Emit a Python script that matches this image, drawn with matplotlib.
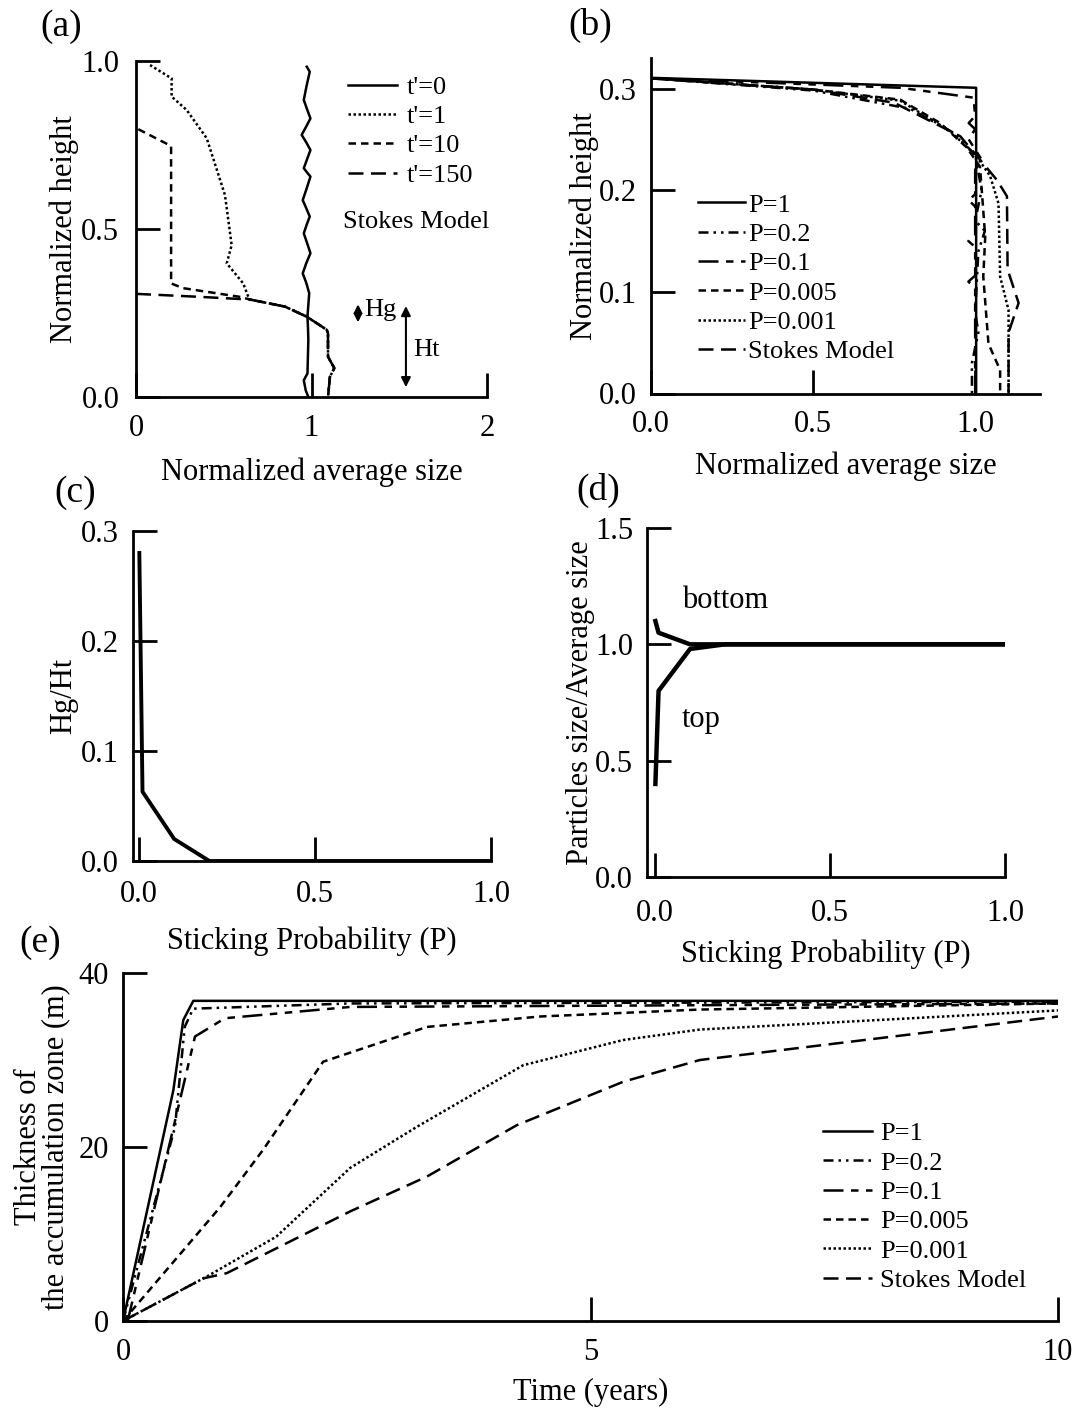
import numpy as np
import matplotlib.pyplot as plt

plt.rcParams['font.family'] = ['Liberation Serif', 'DejaVu Serif']
plt.rcParams['font.size'] = 22

W, H = 1078, 1411

# ---- (a) size profiles, Stokes model
t0_x = [0.982, 0.967, 0.956, 0.977, 0.982, 0.98, 0.977, 0.987, 0.97, 0.95, 0.97, 0.994, 0.975,
        0.956, 0.972, 0.99, 0.97, 0.95, 0.972, 0.994, 0.975, 0.956, 0.975, 0.994, 0.97, 0.944,
        0.97, 0.994, 0.975, 0.956, 0.972, 0.99, 0.973]
t0_y = [0.0, 0.02, 0.05, 0.07, 0.17, 0.205, 0.239, 0.309, 0.34, 0.368, 0.398, 0.428, 0.458,
        0.487, 0.512, 0.537, 0.562, 0.586, 0.62, 0.656, 0.668, 0.681, 0.708, 0.735, 0.758,
        0.78, 0.805, 0.829, 0.856, 0.884, 0.926, 0.968, 0.983]
tail_x = [0.65, 0.849, 0.973, 1.087, 1.094, 1.094, 1.13, 1.105, 1.094]
tail_y = [0.29, 0.269, 0.239, 0.2, 0.19, 0.12, 0.086, 0.06, 0.0]
t1_x = [0.08, 0.203, 0.203, 0.289, 0.403, 0.507, 0.545, 0.517, 0.611, 0.64] + tail_x
t1_y = [0.988, 0.948, 0.894, 0.854, 0.77, 0.601, 0.452, 0.398, 0.338, 0.298] + tail_y
t10_x = [0.013, 0.2, 0.2, 0.268, 0.593] + tail_x
t10_y = [0.797, 0.747, 0.338, 0.324, 0.298] + tail_y
t150_x = [0.0, 0.365] + tail_x
t150_y = [0.307, 0.298] + tail_y

# ---- (b) size profiles, sticking probability
b_p1_x = [0.0, 1.003, 1.003]
b_p1_y = [0.3105, 0.3007, 0.0]
b_p02_x = [0.0, 0.5, 0.8, 0.93, 1.0, 1.02, 1.0, 1.03, 1.01, 1.0, 1.01, 0.99, 0.99]
b_p02_y = [0.31, 0.298, 0.28, 0.257, 0.235, 0.2, 0.17, 0.16, 0.14, 0.08, 0.06, 0.03, 0.0]
b_p01_x = [0.0, 0.77, 0.995, 1.0, 0.98, 1.0, 0.98, 1.0, 1.02, 1.0, 1.0, 0.98, 1.0, 1.0, 0.979,
           1.0, 1.0, 0.979, 1.0, 1.0]
b_p01_y = [0.31, 0.3007, 0.291, 0.273, 0.266, 0.26, 0.25, 0.24, 0.23, 0.22, 0.196, 0.19, 0.184,
           0.156, 0.15, 0.144, 0.116, 0.11, 0.104, 0.0]
b_p0005_x = [0.0, 0.5, 0.769, 0.892, 0.974, 1.015, 1.031, 1.025, 1.041, 1.077, 1.077]
b_p0005_y = [0.31, 0.299, 0.289, 0.266, 0.242, 0.223, 0.154, 0.115, 0.049, 0.023, 0.0]
b_p0001_x = [0.0, 0.5, 0.769, 0.923, 1.005, 1.046, 1.072, 1.077, 1.103, 1.103]
b_p0001_y = [0.31, 0.299, 0.288, 0.258, 0.233, 0.214, 0.187, 0.115, 0.082, 0.0]
b_stokes_x = [0.0, 0.5, 0.75, 0.954, 1.015, 1.067, 1.098, 1.1, 1.134, 1.103, 1.103]
b_stokes_y = [0.31, 0.299, 0.286, 0.253, 0.23, 0.21, 0.194, 0.122, 0.089, 0.06, 0.0]

# ---- (c) Hg/Ht vs P
c_p = [0.001, 0.01, 0.1, 0.2, 1.0]
c_hg = [0.28, 0.063, 0.02, 0.0, 0.0]

# ---- (d) particle size / average size vs P
d_p = [0.001, 0.01, 0.1, 0.2, 1.0]
d_bottom = [1.10, 1.05, 1.0, 1.0, 1.0]
d_top = [0.40, 0.80, 0.98, 1.0, 1.0]

# ---- (e) thickness of accumulation zone vs time
e_p1_t = [0.0, 0.538, 0.645, 0.752, 10.0]
e_p1_h = [0.0, 26.5, 34.6, 36.8, 36.8]
e_p02_t = [0.0, 0.556, 0.66, 0.75, 2.43, 10.0]
e_p02_h = [0.0, 22.3, 33.8, 35.9, 36.5, 36.7]
e_p01_t = [0.05, 0.77, 1.09, 2.43, 10.0]
e_p01_h = [0.0, 32.7, 34.8, 36.1, 36.5]
e_p0005_t = [0.0, 1.04, 1.5, 2.14, 3.25, 4.46, 6.17, 10.0]
e_p0005_h = [0.0, 13.1, 19.7, 29.8, 33.8, 35.0, 35.8, 36.5]
e_p0001_t = [0.0, 0.895, 1.64, 2.43, 3.14, 4.28, 5.35, 6.17, 10.0]
e_p0001_h = [0.0, 5.1, 9.7, 17.6, 22.3, 29.4, 32.3, 33.5, 35.7]
e_stokes_t = [0.0, 0.86, 1.11, 2.43, 3.25, 4.21, 5.35, 6.17, 10.0]
e_stokes_h = [0.0, 4.9, 5.5, 12.6, 16.6, 22.5, 27.5, 30.0, 35.0]

p_labels = ['P=1', 'P=0.2', 'P=0.1', 'P=0.005', 'P=0.001', 'Stokes Model']
styles = ['-', (0, (4, 2, 1, 2, 1, 2)), (0, (8, 3, 3, 3, 3, 3)), (0, (3, 2)), (0, (1, 1)), (0, (6, 3))]
LW = 1.8

fig = plt.figure(figsize=(W / 100, H / 100), dpi=100)


def px_axes(left, top, right, bottom, xpad=12, ypad=10):
    ax = fig.add_axes([left / W, 1 - bottom / H, (right - left) / W, (bottom - top) / H])
    for s in ['top', 'right']:
        ax.spines[s].set_visible(False)
    for s in ['left', 'bottom']:
        ax.spines[s].set_linewidth(2)
    ax.tick_params(direction='in', length=17, width=2, labelsize=22)
    ax.tick_params(axis='x', pad=xpad)
    ax.tick_params(axis='y', pad=ypad)
    return ax


def panel_letter(x, y, s):
    fig.text(x / W, 1 - y / H, s, fontsize=27, ha='center', va='center')


def leg(ax, anchor, hl=1.86, tp=0.38):
    ax.legend(loc='upper left', bbox_to_anchor=anchor, frameon=False, fontsize=19,
              handlelength=hl, handletextpad=tp, labelspacing=0.22, borderpad=0, borderaxespad=0)


# (a)
ax = px_axes(136, 61, 487, 397, ypad=12)
ax.plot(t0_x, t0_y, '-', color='k', lw=LW, label="t'=0")
ax.plot(t1_x, t1_y, color='k', lw=LW, linestyle=(0, (1, 1)), label="t'=1")
ax.plot(t10_x, t10_y, color='k', lw=LW, linestyle=(0, (3, 2)), label="t'=10")
ax.plot(t150_x, t150_y, color='k', lw=LW, linestyle=(0, (6, 3)), label="t'=150")
ax.set_xlim(0, 2)
ax.set_ylim(0, 1)
ax.set_xticks([0, 1, 2])
ax.set_yticks([0, 0.5, 1.0])
ax.set_yticklabels(['0.0', '0.5', '1.0'])
ax.set_xlabel('Normalized average size', labelpad=11)
ax.set_ylabel('Normalized height', labelpad=2)
leg(ax, (0.604, 0.957))
ax.text(1.178, 0.522, 'Stokes Model', fontsize=19, ha='left', va='center')
ax.annotate('', xy=(1.265, 0.284), xytext=(1.265, 0.214),
            arrowprops=dict(arrowstyle='<|-|>', color='k', lw=1.5, mutation_scale=12))
ax.annotate('', xy=(1.538, 0.279), xytext=(1.538, 0.021),
            arrowprops=dict(arrowstyle='<|-|>', color='k', lw=1.5, mutation_scale=14))
ax.text(1.3, 0.26, 'Hg', fontsize=19, ha='left', va='center')
ax.text(1.58, 0.14, 'Ht', fontsize=19, ha='left', va='center')
panel_letter(61, 27, '(a)')

# (b)
ax = px_axes(651, 58, 1040, 393.5)
b_series = [(b_p1_x, b_p1_y), (b_p02_x, b_p02_y), (b_p01_x, b_p01_y),
            (b_p0005_x, b_p0005_y), (b_p0001_x, b_p0001_y), (b_stokes_x, b_stokes_y)]
for (xs, ys), lab, ls in zip(b_series, p_labels, styles):
    ax.plot(xs, ys, color='k', lw=LW, linestyle=ls, label=lab)
ax.set_xlim(0, 1.2)
ax.set_ylim(0, 0.33)
ax.set_xticks([0, 0.5, 1.0])
ax.set_xticklabels(['0.0', '0.5', '1.0'])
ax.set_yticks([0, 0.1, 0.2, 0.3])
ax.set_yticklabels(['0.0', '0.1', '0.2', '0.3'])
ax.set_xlabel('Normalized average size', labelpad=9)
ax.set_ylabel('Normalized height', labelpad=0)
leg(ax, (0.12, 0.597), hl=1.8, tp=0.1)
panel_letter(590, 25, '(b)')

# (c)
ax = px_axes(133, 531, 491, 861, xpad=14)
ax.plot(c_p, c_hg, color='k', lw=2.8)
ax.set_xlim(-0.017, 1.0)
ax.set_ylim(0, 0.3)
ax.set_xticks([0, 0.5, 1.0])
ax.set_xticklabels(['0.0', '0.5', '1.0'])
ax.set_yticks([0, 0.1, 0.2, 0.3])
ax.set_yticklabels(['0.0', '0.1', '0.2', '0.3'])
ax.set_xlabel('Sticking Probability (P)', labelpad=12)
ax.set_ylabel('Hg/Ht', labelpad=2)
panel_letter(75, 493, '(c)')

# (d)
ax = px_axes(647, 528, 1005, 877, xpad=16)
ax.plot(d_p, d_bottom, color='k', lw=3.2)
ax.plot(d_p, d_top, color='k', lw=3.2)
ax.set_xlim(-0.023, 1.0)
ax.set_ylim(0, 1.5)
ax.set_xticks([0, 0.5, 1.0])
ax.set_xticklabels(['0.0', '0.5', '1.0'])
ax.set_yticks([0, 0.5, 1.0, 1.5])
ax.set_yticklabels(['0.0', '0.5', '1.0', '1.5'])
ax.set_xlabel('Sticking Probability (P)', labelpad=8)
ax.set_ylabel('Particles size/Average size', labelpad=0)
ax.text(0.076, 1.19, 'bottom', fontsize=22, ha='left', va='center')
ax.text(0.076, 0.675, 'top', fontsize=22, ha='left', va='center')
panel_letter(598, 490, '(d)')

# (e)
ax = px_axes(123, 973, 1058, 1321)
e_series = [(e_p1_t, e_p1_h), (e_p02_t, e_p02_h), (e_p01_t, e_p01_h),
            (e_p0005_t, e_p0005_h), (e_p0001_t, e_p0001_h), (e_stokes_t, e_stokes_h)]
for (xs, ys), lab, ls in zip(e_series, p_labels, styles):
    ax.plot(xs, ys, color='k', lw=LW, linestyle=ls, label=lab)
ax.set_xlim(0, 10)
ax.set_ylim(0, 40)
ax.set_xticks([0, 5, 10])
ax.set_yticks([0, 20, 40])
ax.set_xlabel('Time (years)', labelpad=8)
ax.set_ylabel('Thickness of\nthe accumulation zone (m)', labelpad=6, linespacing=0.95)
leg(ax, (0.749, 0.572), hl=1.86, tp=0.3)
panel_letter(40, 943, '(e)')

fig.savefig('out.png', dpi=100)
